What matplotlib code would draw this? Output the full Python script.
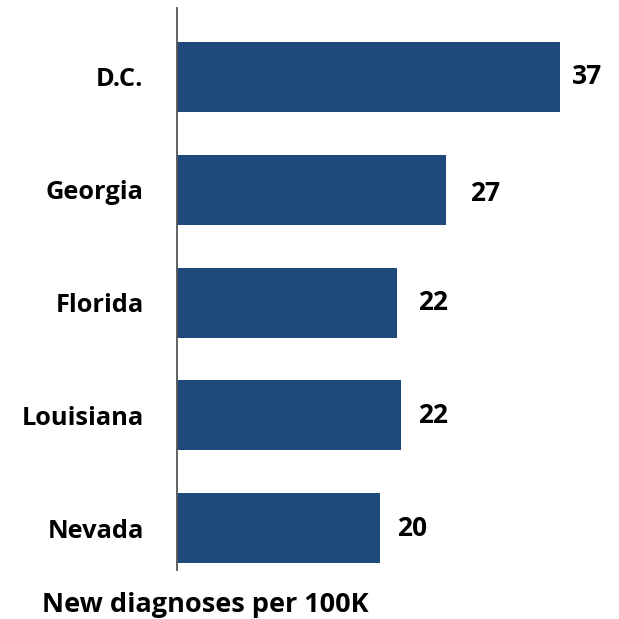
import matplotlib
matplotlib.use("Agg")
import matplotlib.pyplot as plt

categories = ["D.C.", "Georgia", "Florida", "Louisiana", "Nevada"]
values = [37.7, 26.5, 21.7, 22.1, 20.0]
labels = ["37", "27", "22", "22", "20"]
xlabel = "New diagnoses per 100K"

plt.rcParams['font.family'] = ['Open Sans', 'DejaVu Sans']

W = H = 619
fig = plt.figure(figsize=(6.19, 6.19), dpi=100)
ax = fig.add_axes([177 / W, 1 - 570 / H, (619 - 177) / W, (570 - 8) / H])

pos = list(range(len(categories)))
ax.barh(pos, values, height=0.62, color="#1F497A")
ax.set_xlim(0, 442 / 10.15)
ax.set_ylim(4.37, -0.61)

# label offsets in pixels (style only)
label_dx = [12, 24, 21, 17, 17]
label_dy = [0, -4, 0, 0, 0]
for p, v, t, dx, dy in zip(pos, values, labels, label_dx, label_dy):
    ax.annotate(t, (v, p), xytext=(dx * 0.72, dy * 0.72), textcoords="offset points",
                ha="left", va="center", fontsize=19, fontweight="bold", color="black")

ax.set_yticks(pos)
ax.set_yticklabels(categories, fontsize=18.3, fontweight="bold")
ax.tick_params(axis="y", length=0, pad=24)
ax.set_xticks([])
for s in ["top", "right", "bottom"]:
    ax.spines[s].set_visible(False)
ax.spines["left"].set_color("#555555")
ax.spines["left"].set_linewidth(1.3)

fig.text(42 / W, 1 - 612 / H, xlabel, ha="left", va="baseline",
         fontsize=19.5, fontweight="bold", color="black")

fig.savefig("out.png", dpi=100)
